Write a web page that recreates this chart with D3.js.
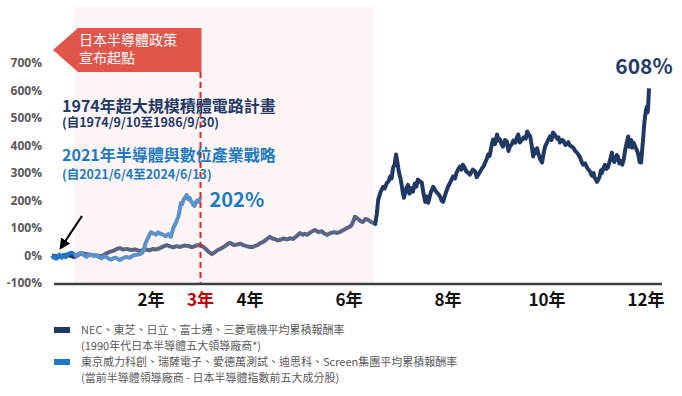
<!DOCTYPE html>
<html>
<head>
<meta charset="utf-8">
<script src="https://cdn.jsdelivr.net/npm/d3@7"></script>
<style>
  body { margin: 0; background: #fff; }
  svg { font-family: "Noto Sans CJK TC", "Noto Sans", sans-serif; }
</style>
</head>
<body>
<div id="chart"></div>
<script>
// data: [years since start, cumulative return %]
var series1974 = [
  [0, 0], [0.15, -5], [0.3, 3], [0.45, -6], [0.6, 8], [0.8, 2], [1.0, -3], [1.11, 9],
  [1.18, 14], [1.25, 18], [1.31, 24], [1.37, 27], [1.43, 22], [1.5, 24], [1.6, 20], [1.68, 22],
  [1.78, 16], [1.84, 20], [1.9, 22], [1.97, 19], [2.04, 24], [2.11, 22], [2.18, 27], [2.25, 33],
  [2.32, 38], [2.38, 33], [2.45, 30], [2.52, 34], [2.59, 31], [2.67, 36], [2.75, 35], [2.83, 30],
  [2.91, 36], [2.99, 38], [3.05, 32], [3.1, 25], [3.16, 14], [3.23, 5], [3.29, 12], [3.35, 20],
  [3.42, 26], [3.5, 35], [3.55, 42], [3.6, 46], [3.67, 38], [3.75, 40], [3.8, 43], [3.86, 38],
  [3.93, 34], [4.0, 31], [4.06, 31], [4.1, 35], [4.15, 38], [4.2, 44], [4.26, 49], [4.33, 58],
  [4.4, 68], [4.45, 62], [4.5, 60], [4.55, 55], [4.61, 57], [4.68, 62], [4.75, 58], [4.81, 63],
  [4.87, 60], [4.94, 70], [5.01, 82], [5.07, 75], [5.11, 79], [5.15, 75], [5.23, 85], [5.31, 93],
  [5.38, 85], [5.45, 88], [5.5, 80], [5.56, 75], [5.63, 82], [5.7, 85], [5.76, 82], [5.82, 86],
  [5.89, 93], [5.96, 100], [6.01, 104], [6.05, 110], [6.09, 126], [6.12, 141], [6.16, 136],
  [6.2, 130], [6.24, 124], [6.28, 122], [6.33, 133], [6.38, 130], [6.43, 124], [6.48, 119],
  [6.53, 115], [6.56, 150], [6.59, 203], [6.64, 232], [6.69, 250], [6.72, 244], [6.76, 262],
  [6.8, 270], [6.83, 287], [6.86, 280], [6.89, 319], [6.92, 330], [6.95, 367], [6.98, 335],
  [7.01, 301], [7.04, 280], [7.07, 250], [7.09, 225], [7.11, 210], [7.15, 240], [7.19, 257],
  [7.22, 225], [7.25, 245], [7.29, 232], [7.33, 262], [7.36, 250], [7.39, 276], [7.43, 270],
  [7.47, 265], [7.5, 230], [7.54, 195], [7.57, 215], [7.6, 192], [7.65, 228], [7.7, 250],
  [7.74, 238], [7.77, 230], [7.81, 222], [7.84, 214], [7.87, 200], [7.9, 195], [7.95, 225],
  [8.0, 250], [8.05, 268], [8.1, 287], [8.14, 280], [8.17, 300], [8.21, 315], [8.24, 323],
  [8.27, 312], [8.3, 330], [8.34, 318], [8.37, 305], [8.41, 300], [8.44, 294], [8.5, 312],
  [8.55, 305], [8.58, 285], [8.61, 294], [8.65, 305], [8.68, 315], [8.72, 325], [8.75, 338],
  [8.78, 350], [8.81, 367], [8.84, 362], [8.86, 380], [8.88, 400], [8.91, 422], [8.95, 405],
  [8.99, 440], [9.02, 418], [9.05, 422], [9.08, 405], [9.11, 396], [9.15, 420], [9.19, 414],
  [9.22, 380], [9.25, 396], [9.29, 405], [9.32, 418], [9.36, 410], [9.39, 429], [9.42, 440],
  [9.45, 411], [9.49, 420], [9.53, 430], [9.57, 425], [9.6, 451], [9.63, 440], [9.66, 433],
  [9.69, 400], [9.72, 360], [9.75, 385], [9.77, 372], [9.8, 390], [9.82, 374], [9.86, 350],
  [9.9, 338], [9.93, 370], [9.96, 396], [10.01, 415], [10.06, 433], [10.09, 420], [10.12, 447],
  [10.16, 438], [10.2, 425], [10.23, 430], [10.26, 411], [10.3, 420], [10.33, 418], [10.37, 402],
  [10.4, 405], [10.43, 412], [10.46, 400], [10.5, 396], [10.53, 392], [10.57, 380], [10.6, 375],
  [10.64, 365], [10.67, 356], [10.7, 340], [10.73, 330], [10.77, 335], [10.81, 319], [10.84, 312],
  [10.87, 305], [10.89, 296], [10.91, 290], [10.94, 300], [10.96, 283], [10.99, 275], [11.01, 268],
  [11.04, 278], [11.06, 285], [11.09, 310], [11.11, 300], [11.14, 318], [11.17, 330], [11.2, 315],
  [11.23, 320], [11.27, 345], [11.31, 374], [11.33, 349], [11.36, 340], [11.38, 352], [11.41, 365],
  [11.43, 360], [11.46, 335], [11.48, 345], [11.52, 330], [11.55, 350], [11.58, 385], [11.61, 410],
  [11.64, 433], [11.66, 395], [11.68, 400], [11.7, 420], [11.72, 392], [11.75, 410], [11.78, 396],
  [11.81, 385], [11.84, 370], [11.87, 340], [11.9, 338], [11.92, 380], [11.94, 420], [11.96, 470],
  [11.98, 505], [12.0, 530], [12.02, 542], [12.03, 520], [12.04, 531], [12.05, 570], [12.06, 608]
];

var series2021 = [
  [0, 0], [0.03, -8], [0.05, -5], [0.08, -12], [0.1, -10], [0.13, -2], [0.15, 3], [0.18, -6],
  [0.2, -8], [0.23, 2], [0.25, -3], [0.28, -6], [0.32, 5], [0.36, 8], [0.4, 10], [0.45, 4],
  [0.5, 0], [0.55, 8], [0.6, 7], [0.65, 0], [0.7, -5], [0.74, 2], [0.78, 3], [0.84, -2],
  [0.9, 0], [0.95, -6], [1.0, -10], [1.05, -4], [1.1, -5], [1.15, -12], [1.2, -15], [1.25, -9],
  [1.3, -8], [1.34, -14], [1.37, -17], [1.43, -10], [1.5, -5], [1.57, -8], [1.64, 0], [1.71, 3],
  [1.78, 5], [1.82, 10], [1.85, 20], [1.89, 45], [1.93, 60], [1.96, 72], [2.0, 85], [2.05, 80],
  [2.1, 75], [2.14, 84], [2.18, 80], [2.24, 76], [2.3, 70], [2.35, 78], [2.4, 68], [2.43, 85],
  [2.45, 100], [2.5, 118], [2.55, 140], [2.58, 165], [2.6, 190], [2.63, 186], [2.65, 200],
  [2.69, 212], [2.72, 220], [2.75, 205], [2.78, 210], [2.8, 200], [2.82, 195], [2.85, 185],
  [2.88, 180], [2.91, 195], [2.93, 200], [2.96, 196], [2.99, 205], [3.02, 202]
];

var yTicks = [-100, 0, 100, 200, 300, 400, 500, 600, 700];
var xTicks = [2, 3, 4, 6, 8, 10, 12];
var policyStart = 3;
var shadeYears = [0.45, 6.5];

var legendLines = [
  ["NEC、東芝、日立、富士通、三菱電機平均累積報酬率", "(1990年代日本半導體五大領導廠商*)"],
  ["東京威力科創、瑞薩電子、愛德萬測試、迪思科、Screen集團平均累積報酬率", "(當前半導體領導廠商 - 日本半導體指數前五大成分股)"]
];

var navy = "#1f3864";
var blue = "#2277c4";

var svgWidth = 682;
var svgHeight = 396;

var svg = d3.select("#chart")
  .append("svg")
  .attr("width", svgWidth)
  .attr("height", svgHeight);

var x = d3.scaleLinear().domain([0, 12.06]).range([52, 649]);
var y = d3.scaleLinear().domain([-100, 700]).range([283, 63]);

var line = d3.line()
  .x(d => x(d[0]))
  .y(d => y(d[1]));

// series lines
svg.append("path")
  .datum(series1974)
  .attr("d", line)
  .attr("fill", "none")
  .attr("stroke", navy)
  .attr("stroke-width", 4)
  .attr("stroke-linejoin", "round");

svg.append("path")
  .datum(series2021)
  .attr("d", line)
  .attr("fill", "none")
  .attr("stroke", blue)
  .attr("stroke-width", 4)
  .attr("stroke-linejoin", "round");

// pink band drawn over the lines, slightly transparent
svg.append("rect")
  .attr("x", x(shadeYears[0]))
  .attr("y", 7)
  .attr("width", x(shadeYears[1]) - x(shadeYears[0]))
  .attr("height", y(-100) - 7)
  .attr("fill", "#f4d6da")
  .attr("opacity", 0.28);

// x axis line
svg.append("line")
  .attr("x1", 54).attr("x2", 662)
  .attr("y1", y(-100) + 1).attr("y2", y(-100) + 1)
  .attr("stroke", "#404040")
  .attr("stroke-width", 2.5);

// y tick labels
svg.selectAll(".ytick")
  .data(yTicks)
  .enter()
  .append("text")
  .attr("class", "ytick")
  .attr("x", 42)
  .attr("y", d => y(d) + 4)
  .attr("text-anchor", "end")
  .attr("font-family", "'Open Sans', sans-serif")
  .attr("font-size", 12)
  .attr("font-weight", "bold")
  .attr("fill", "#595959")
  .text(d => d + "%");

// x tick labels
svg.selectAll(".xtick")
  .data(xTicks)
  .enter()
  .append("text")
  .attr("class", "xtick")
  .attr("x", d => x(d))
  .attr("y", 306)
  .attr("text-anchor", "middle")
  .attr("font-size", 17)
  .attr("font-weight", "bold")
  .attr("fill", d => d === policyStart ? "#c00000" : "#111")
  .text(d => d + "年");

// red dashed marker at policy start
svg.append("line")
  .attr("x1", x(policyStart)).attr("x2", x(policyStart))
  .attr("y1", 72).attr("y2", y(-100))
  .attr("stroke", "#d9262e")
  .attr("stroke-width", 2)
  .attr("stroke-dasharray", "6,4");

// red flag label
svg.append("polygon")
  .attr("points", [[53, 50], [78, 28], [x(policyStart) + 1, 28], [x(policyStart) + 1, 72], [78, 72]].join(" "))
  .attr("fill", "#e0564b");

svg.append("text")
  .attr("x", 79).attr("y", 45)
  .attr("font-size", 14)
  .attr("fill", "#fff")
  .text("日本半導體政策");
svg.append("text")
  .attr("x", 79).attr("y", 63)
  .attr("font-size", 14)
  .attr("fill", "#fff")
  .text("宣布起點");

// series titles
svg.append("text")
  .attr("x", 62).attr("y", 112)
  .attr("font-size", 16).attr("font-weight", "bold")
  .attr("fill", "#253b67")
  .text("1974年超大規模積體電路計畫");
svg.append("text")
  .attr("x", 62).attr("y", 127)
  .attr("font-size", 12.5).attr("font-weight", "bold")
  .attr("fill", "#253b67")
  .text("(自1974/9/10至1986/9/30)");

svg.append("text")
  .attr("x", 62).attr("y", 161)
  .attr("font-size", 16).attr("font-weight", "bold")
  .attr("fill", "#1f7bc0")
  .text("2021年半導體與數位產業戰略");
svg.append("text")
  .attr("x", 62).attr("y", 179)
  .attr("font-size", 12.5).attr("font-weight", "bold")
  .attr("fill", "#1f7bc0")
  .text("(自2021/6/4至2024/6/13)");

// end value labels
var last2021 = series2021[series2021.length - 1];
var last1974 = series1974[series1974.length - 1];

svg.append("text")
  .attr("x", x(last2021[0]) + 8).attr("y", y(last2021[1]) + 7)
  .attr("font-size", 20).attr("font-weight", "bold")
  .attr("fill", "#1f7bc0")
  .text(last2021[1] + "%");

svg.append("text")
  .attr("x", 644).attr("y", 74)
  .attr("text-anchor", "middle")
  .attr("font-size", 21).attr("font-weight", "bold")
  .attr("fill", "#253b67")
  .text(last1974[1] + "%");

// black arrow pointing at the start
svg.append("defs").append("marker")
  .attr("id", "head")
  .attr("viewBox", "0 0 10 10")
  .attr("refX", 6).attr("refY", 5)
  .attr("markerWidth", 5).attr("markerHeight", 5)
  .attr("markerUnits", "strokeWidth")
  .attr("orient", "auto")
  .append("path")
  .attr("d", "M0,0 L10,5 L0,10 z")
  .attr("fill", "#000");

svg.append("line")
  .attr("x1", 82).attr("y1", 216)
  .attr("x2", 62).attr("y2", 246)
  .attr("stroke", "#000")
  .attr("stroke-width", 2.2)
  .attr("marker-end", "url(#head)");

// legend
var legendColors = [navy, "#1f78c8"];
var legend = svg.selectAll(".legend")
  .data(legendLines)
  .enter()
  .append("g")
  .attr("class", "legend")
  .attr("transform", (d, i) => `translate(54, ${330 + i * 32})`);

legend.append("rect")
  .attr("x", 0).attr("y", -3)
  .attr("width", 16).attr("height", 6)
  .attr("fill", (d, i) => legendColors[i]);

legend.append("text")
  .attr("x", 27).attr("y", 4)
  .attr("font-size", 11)
  .attr("fill", "#595959")
  .text(d => d[0]);

legend.append("text")
  .attr("x", 27).attr("y", 20)
  .attr("font-size", 11)
  .attr("fill", "#595959")
  .text(d => d[1]);
</script>
</body>
</html>
